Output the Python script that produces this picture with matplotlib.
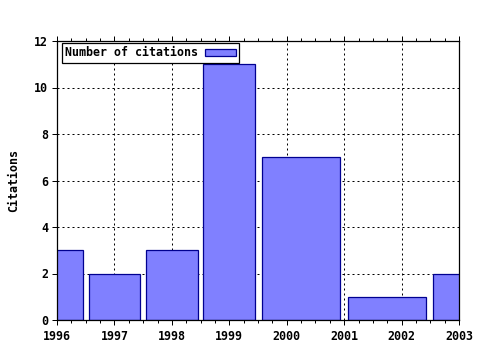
import numpy as np
import matplotlib.pyplot as plt
from matplotlib.patches import Patch
from matplotlib.ticker import MultipleLocator

years = np.array([1996, 1997, 1998, 1999, 2000, 2002, 2003], dtype=float)
citations = [3, 2, 3, 11, 7, 1, 2]
xticks = [1996, 1997, 1998, 1999, 2000, 2001, 2002, 2003]
yticks = [0, 2, 4, 6, 8, 10, 12]

FONT = "DejaVu Sans Mono"
FS = 8.4
FILL = "#8080ff"
EDGE = "#000090"


def box_extents(x, scale=0.9):
    """gnuplot-like auto box widths: reach halfway to neighbours, then scale"""
    mids = (x[1:] + x[:-1]) / 2.0
    left = np.concatenate(([x[0] - (x[1] - x[0]) / 2.0], mids))
    right = np.concatenate((mids, [x[-1] + (x[-1] - x[-2]) / 2.0]))
    centre = (left + right) / 2.0
    width = (right - left) * scale
    return centre, width


fig = plt.figure(figsize=(4.8, 3.5), dpi=100)
ax = fig.add_axes([57 / 480, 1 - 320 / 350, 402 / 480, 279 / 350])

centre, width = box_extents(years)
ax.bar(centre, citations, width=width, color=FILL, edgecolor=EDGE,
       linewidth=0.9, zorder=2)

ax.set_xlim(1996, 2003)
ax.set_ylim(0, 12)
ax.set_xticks(xticks)
ax.set_yticks(yticks)
ax.xaxis.set_minor_locator(MultipleLocator(0.25))
ax.grid(True, which="major", color="black", linewidth=0.72,
        linestyle=(0, (2, 3)), zorder=0)
ax.set_axisbelow(True)

ax.tick_params(axis="x", which="both", direction="out", top=True,
               bottom=True, width=0.72, pad=4)
ax.tick_params(axis="x", which="major", length=3.5)
ax.tick_params(axis="x", which="minor", length=2)
ax.tick_params(axis="y", which="major", direction="out", left=True,
               right=False, length=3.5, width=0.72, pad=3)
for sp in ax.spines.values():
    sp.set_linewidth(0.9)

for lab in ax.get_xticklabels() + ax.get_yticklabels():
    lab.set_fontfamily(FONT)
    lab.set_fontweight("bold")
    lab.set_fontsize(FS)

ax.set_ylabel("Citations", fontfamily=FONT, fontweight="bold", fontsize=FS,
              labelpad=10)

handle = Patch(facecolor=FILL, edgecolor=EDGE, linewidth=0.9)
leg = ax.legend([handle], ["Number of citations"], loc="upper left",
                bbox_to_anchor=(0.012, 0.993), markerfirst=False,
                fancybox=False, edgecolor="black", framealpha=1,
                borderpad=0.3, handlelength=2.6, handleheight=0.5,
                handletextpad=0.6, borderaxespad=0,
                prop={"family": FONT, "weight": "bold", "size": FS})
leg.get_frame().set_linewidth(0.9)

fig.savefig("out.png", dpi=100)
